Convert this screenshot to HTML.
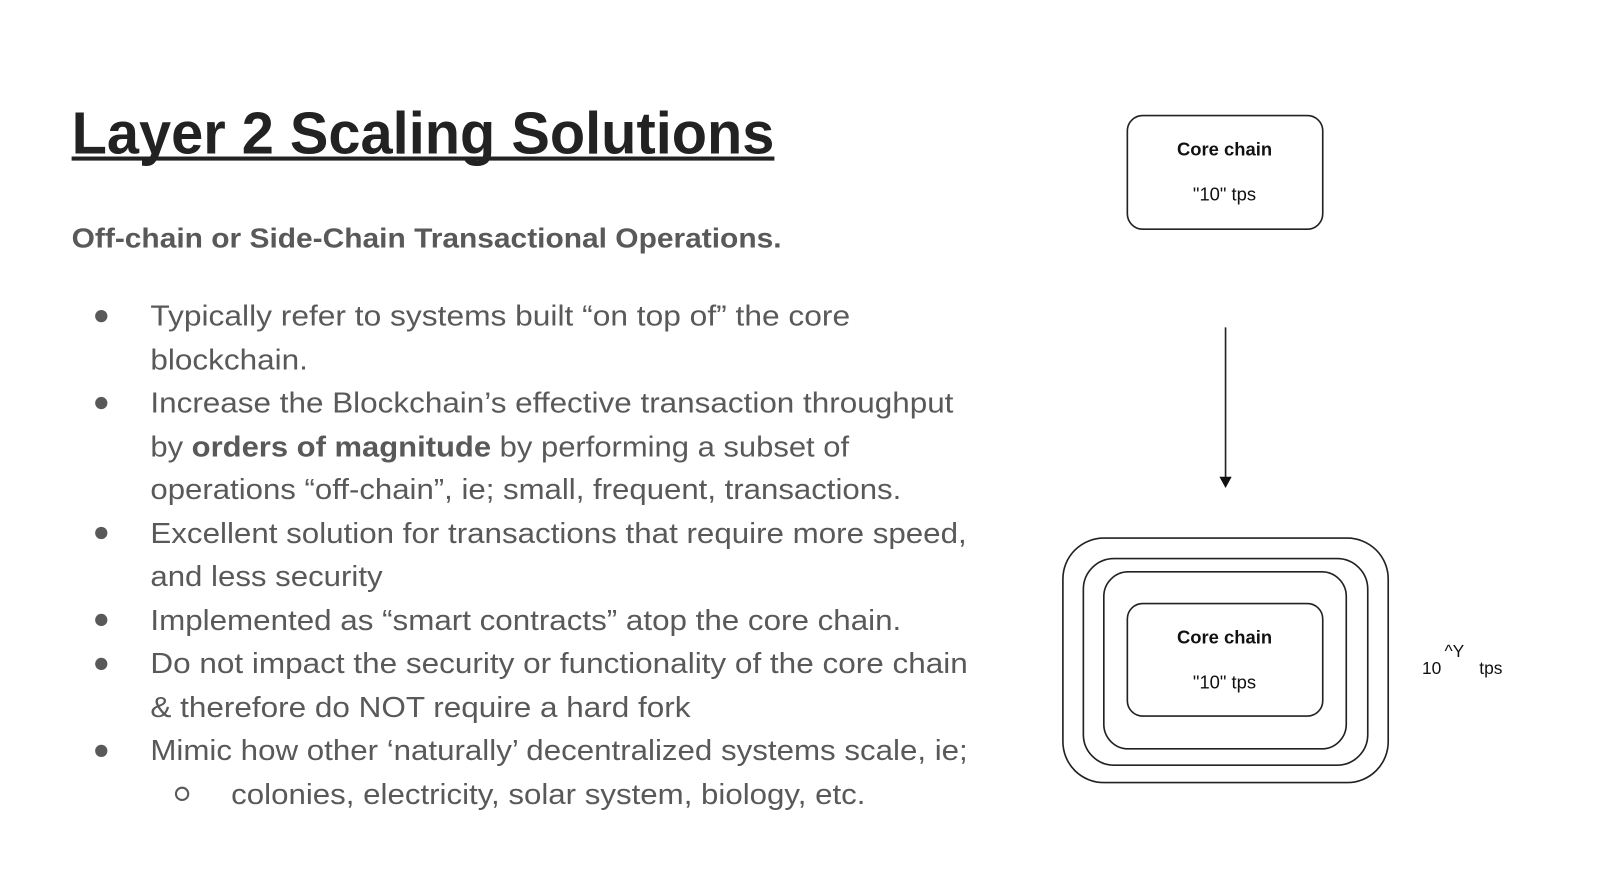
<!DOCTYPE html>
<html><head><meta charset="utf-8"><style>
html,body{margin:0;padding:0;background:#fff;}
svg{display:block}
</style></head><body>
<svg width="1600" height="880" viewBox="0 0 1600 880" xmlns="http://www.w3.org/2000/svg">
<rect width="1600" height="880" fill="#fff"/>
<g font-family="Liberation Sans, sans-serif" transform="scale(1.023)">
<text x="70" y="150" font-size="58" font-weight="bold" fill="#222" textLength="687" lengthAdjust="spacingAndGlyphs">Layer 2 Scaling Solutions</text>
<rect x="70" y="153" width="687" height="4" fill="#222"/>
<text x="70" y="242" font-size="27" font-weight="bold" fill="#595959" textLength="694" lengthAdjust="spacingAndGlyphs">Off-chain or Side-Chain Transactional Operations.</text>
<g font-size="28" fill="#595959">
<circle cx="99" cy="309" r="6"/><circle cx="99" cy="394" r="6"/><circle cx="99" cy="521" r="6"/><circle cx="99" cy="606" r="6"/><circle cx="99" cy="649" r="6"/><circle cx="99" cy="734" r="6"/>
<circle cx="178" cy="776" r="6" fill="none" stroke="#595959" stroke-width="2"/>
<text x="147" y="318" textLength="684" lengthAdjust="spacingAndGlyphs">Typically refer to systems built “on top of” the core</text>
<text x="147" y="361" textLength="154" lengthAdjust="spacingAndGlyphs">blockchain.</text>
<text x="147" y="403" textLength="785" lengthAdjust="spacingAndGlyphs">Increase the Blockchain’s effective transaction throughput</text>
<text x="147" y="446" textLength="683" lengthAdjust="spacingAndGlyphs">by <tspan font-weight="bold">orders of magnitude</tspan> by performing a subset of</text>
<text x="147" y="488" textLength="734" lengthAdjust="spacingAndGlyphs">operations “off-chain”, ie; small, frequent, transactions.</text>
<text x="147" y="531" textLength="798" lengthAdjust="spacingAndGlyphs">Excellent solution for transactions that require more speed,</text>
<text x="147" y="573" textLength="227" lengthAdjust="spacingAndGlyphs">and less security</text>
<text x="147" y="616" textLength="734" lengthAdjust="spacingAndGlyphs">Implemented as “smart contracts” atop the core chain.</text>
<text x="147" y="658" textLength="799" lengthAdjust="spacingAndGlyphs">Do not impact the security or functionality of the core chain</text>
<text x="147" y="701" textLength="528" lengthAdjust="spacingAndGlyphs">&amp; therefore do NOT require a hard fork</text>
<text x="147" y="743" textLength="799" lengthAdjust="spacingAndGlyphs">Mimic how other ‘naturally’ decentralized systems scale, ie;</text>
<text x="226" y="786" textLength="620" lengthAdjust="spacingAndGlyphs">colonies, electricity, solar system, biology, etc.</text>
</g>
<g fill="none" stroke="#222" stroke-width="1.6">
<rect x="1102" y="113" width="191" height="111" rx="15"/>
<line x1="1198" y1="320" x2="1198" y2="468"/>
<rect x="1039" y="526" width="318" height="239" rx="40"/>
<rect x="1059" y="546" width="278" height="202" rx="30"/>
<rect x="1079" y="559" width="237" height="173" rx="24"/>
<rect x="1102" y="590" width="191" height="110" rx="15"/>
</g>
<polygon points="1192,466 1204,466 1198,477" fill="#111"/>
<g font-size="18" fill="#111" text-anchor="middle">
<text x="1197" y="152" font-weight="bold">Core chain</text>
<text x="1197" y="196">"10" tps</text>
<text x="1197" y="629" font-weight="bold">Core chain</text>
<text x="1197" y="673">"10" tps</text>
</g>
<g font-size="17" fill="#111">
<text x="1390" y="659">10</text>
<text x="1412" y="642">^Y</text>
<text x="1446" y="659">tps</text>
</g>
</g>
</svg>
</body></html>
